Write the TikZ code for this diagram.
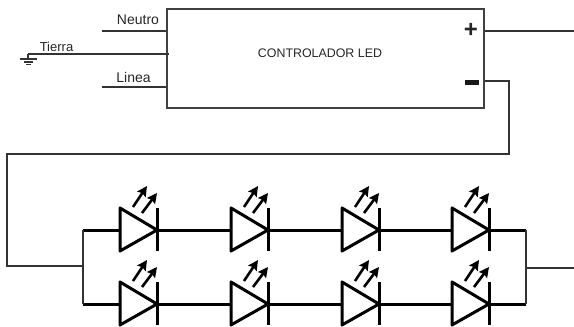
\documentclass[tikz,border=0pt]{standalone}
\usepackage{fontspec}
\setmainfont{Liberation Sans}
\usetikzlibrary{positioning}
\usetikzlibrary{arrows.meta}

\begin{document}
\begin{tikzpicture}[x = 1pt, y = -1pt,
        Box/.style = {rectangle, draw = black!75, line width = 1.2pt, minimum width = 317pt, minimum height = 99pt, inner sep = 0pt},
        Label/.style = {inner sep = 0pt, font = \fontsize{14}{14}\selectfont, text = black!85},
        Wire/.style = {draw = black!80, line width = 1.2pt},
        Bus/.style = {draw = black, line width = 3pt},
        Led/.pic = {
                \draw [line width = 3pt, line join = round, fill = white] (-37,-22) -- (0,0) -- (-37,21) -- cycle;
                \draw [line width = 3pt] (0,-22) -- (0,21);
                \draw [line width = 2.6pt, -{Stealth[length = 10pt, width = 10pt, inset = 1.5pt]}] (-24,-23) -- (-10,-44);
                \draw [line width = 2.6pt, -{Stealth[length = 10pt, width = 10pt, inset = 1.5pt]}] (-15,-17) -- (0,-37);
                \coordinate (-in) at (-37,0);
                \coordinate (-out) at (0,0);
            }]
        \useasboundingbox (0,0) rectangle (574,327);
        \node [Box] (driver) at (325.5,58.5) {};
        \node [Label, font = \fontsize{12.4}{12.4}\selectfont] (title) at (320,53) {CONTROLADOR LED};
        \node [Label, font = \fontsize{24}{24}\selectfont\bfseries] (plus) at (471,30) {+};
        \node [fill = black!90, minimum width = 14pt, minimum height = 5pt, inner sep = 0pt] (minus) at (472,82) {};

        % entrada
        \coordinate (neutroend) at (102,31);
        \coordinate (lineaend) at (102,87);
        \coordinate (tierraend) at (28,54);
        \coordinate (neutroin) at (driver.west |- neutroend);
        \coordinate (lineain) at (driver.west |- lineaend);
        \coordinate (tierrain) at (169,54);
        \draw [Wire] (neutroend) -- (neutroin);
        \draw [Wire] (lineaend) -- (lineain);
        \draw [Wire] (tierraend) -- (tierrain);
        \node [Label] (neutro) at (138,20) {Neutro};
        \node [Label] (linea) at (133.5,77) {Linea};
        \node [Label, font = \fontsize{13}{13}\selectfont] (tierra) at (56.5,47) {Tierra};

        % tierra
        \coordinate (ground) at (28,59);
        \draw [Wire] (tierraend) -- (ground);
        \draw [Wire] (20,59) -- (37,59);
        \draw [Wire] (24,62) -- (33,62);
        \draw [Wire] (26,64.5) -- (31,64.5);

        % leds
        \foreach \col/\x in {1/157, 2/268, 3/379, 4/489} {
                \pic (top\col) at (\x,230) {Led};
                \pic (bot\col) at (\x,304) {Led};
            }
        \coordinate (lefttop) at (83,230);
        \coordinate (leftbot) at (83,304);
        \coordinate (righttop) at (526,230);
        \coordinate (rightbot) at (526,304);
        \foreach \row in {top, bot} {
                \draw [Bus] (\row1-out) -- (\row2-in);
                \draw [Bus] (\row2-out) -- (\row3-in);
                \draw [Bus] (\row3-out) -- (\row4-in);
            }
        \draw [Bus] (lefttop) -- (top1-in);
        \draw [Bus] (leftbot) -- (bot1-in);
        \draw [Bus] (top4-out) -- (righttop);
        \draw [Bus] (bot4-out) -- (rightbot);
        \draw [Wire] (lefttop) -- (leftbot);
        \draw [Wire] (righttop) -- (rightbot);

        % salida
        \coordinate (plusout) at (driver.east |- 0,31);
        \coordinate (plusend) at (574,31);
        \coordinate (minusout) at (driver.east |- 0,81);
        \coordinate (leftjoin) at (83,266);
        \coordinate (rightjoin) at (526,268);
        \coordinate (rightend) at (574,268);
        \draw [Wire] (plusout) -- (plusend);
        \draw [Wire] (minusout) -- (509,81) -- (509,154) -- (7,154) -- (7,266) -- (leftjoin);
        \draw [Wire] (rightjoin) -- (rightend);
    \end{tikzpicture}
\end{document}
